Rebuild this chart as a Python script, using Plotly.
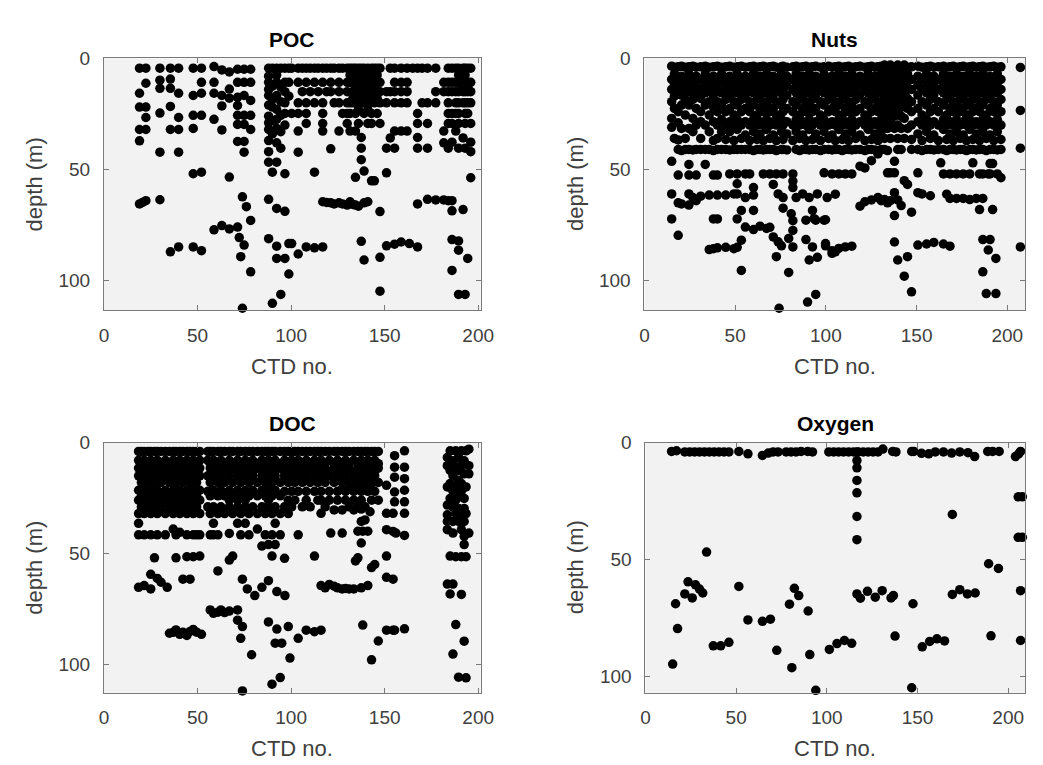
import plotly.graph_objects as go

# ---------------- data: (CTD no., [depths]) ----------------
poc_casts = [
    (19.0, [4.4, 15.7, 21.9, 32, 37.1, 65.5]),
    (20.6, [64.8]),
    (22.4, [4.4, 11.2, 21.9, 26.6, 32, 64]),
    (29.9, [4.4, 9.8, 13.5, 24.6, 42.2, 63.6]),
    (35.5, [4.4, 9.3, 13.5, 21.6, 32, 87]),
    (39.9, [4.4, 15.7, 26.6, 32, 42.2, 84.8]),
    (47.7, [4.4, 16.7, 25.6, 31.5, 51.9, 84.8]),
    (52.1, [4.4, 10.8, 15.7, 25.6, 51.2, 86.5]),
    (58.8, [3.7, 10.8, 15.7, 27.4, 77.1]),
    (63.0, [5.2, 16.7, 21.4, 32.2, 75.2]),
    (67.0, [6.1, 13.8, 17.9, 53.4, 76.7]),
    (71.4, [4.9, 10.8, 17.5, 21.2, 25.6, 29.7, 37.4, 75.9]),
    (72.3, [80.6]),
    (73.1, [89.2]),
    (74.0, [62.3, 112.4]),
    (74.9, [4.9, 10.8, 16.7, 25.6, 29.7, 37.4, 42.2, 84.0]),
    (76.1, [66.7]),
    (78.4, [4.9, 10.8, 18.9, 25.6, 32, 72.9, 96.0]),
    (88.0, [4.4, 8, 10.8, 14, 16.7, 21, 26, 29, 32, 37, 42, 46.7, 63.4, 81.1]),
    (90.0, [4.4, 12.5, 18.5, 21.9, 28, 34, 51.2, 110.2]),
    (92.3, [4.4, 7.5, 10.8, 16.7, 23, 27.4, 31.5, 38, 46.7, 67.5, 84.5, 90.0]),
    (94.5, [4.4, 13, 19.5, 25.6, 33, 40.4, 106.2]),
    (96.7, [4.4, 10.8, 15, 20, 24.8, 30, 51.9, 68.8, 90.0]),
    (98.8, [4.4, 10.8, 17, 83.3, 97.0]),
    (100.3, [4.4, 24.8, 83.3]),
    (103.8, [4.4, 10.8, 20, 24.8, 32.7, 42.2, 88.0]),
    (106.0, [4.4, 15]),
    (108.1, [4.4, 10.8, 20, 24.8, 29.3, 84.8]),
    (110.2, [4.4, 15]),
    (112.5, [4.4, 10.8, 20, 51.2, 85.2]),
    (114.5, [4.4, 15]),
    (116.9, [4.4, 10.8, 20, 24.8, 29.3, 32.7, 64.5, 84.8]),
    (119.0, [4.4, 15, 64.8]),
    (121.2, [4.4, 10.8, 15, 40.7, 65]),
    (123.0, [4.4, 20, 65.5]),
    (125.6, [4.4, 10.8, 15, 20, 32.7, 65]),
    (127.5, [4.4, 24.8, 65.5]),
    (130.0, [4.4, 10.8, 15, 20, 24.8, 29.3, 66]),
    (131.5, [4.4, 7.5, 10.8, 20, 24.8, 32.7, 64.5]),
    (133.0, [4.4, 7.5, 10.8, 15, 18, 20, 65.7]),
    (134.4, [4.4, 7, 10.8, 13, 15, 20, 24.8, 32.7, 53.5, 66]),
    (136.0, [4.4, 7, 10.8, 13, 15, 17.5, 20, 23, 29.3, 66.5]),
    (137.5, [4.4, 7, 10.8, 13, 15, 20, 35.6, 40.4, 45.6, 82.3]),
    (139.0, [4.4, 7, 10.8, 13, 15, 17.5, 20, 24.8, 50.7, 65, 90.7]),
    (141.0, [4.4, 7, 10.8, 13, 15, 20, 23, 29.3, 64.5]),
    (143.0, [4.4, 7, 10.8, 13, 15, 17.5, 24.8, 29.3, 55.1]),
    (144.5, [4.4, 7, 10.8, 15, 20, 55.1]),
    (146.0, [4.4, 7.5, 10.8, 15, 18, 24.8]),
    (147.5, [4.4, 10.8, 15, 20, 29.3, 68.9, 89.5, 104.7]),
    (151.0, [15, 20, 40.4, 51.5, 84.3]),
    (153.0, [4.4, 15, 35.8]),
    (155.3, [4.4, 10.8, 15, 20, 32.7, 40.4, 83.6]),
    (158.8, [4.4, 10.8, 15, 20, 32.7, 82.6]),
    (162.0, [4.4, 10.8, 15, 20, 32.7]),
    (163.2, [83.3]),
    (165.0, [4.4]),
    (167.6, [4.4, 24.8, 29.3, 35.6, 40.4, 65.5, 84.8]),
    (170.0, [4.4, 20]),
    (172.9, [4.4, 20, 29.3, 40.4, 63.4]),
    (177.3, [4.4, 15, 20, 63.7]),
    (181.6, [10.8, 15, 32.7, 38, 63.7]),
    (184.0, [4.4, 10.8, 15, 20, 24.8, 29.3, 40.4, 64]),
    (186.0, [4.4, 10.8, 15, 24.8, 29.3, 37.7, 64, 68.6, 81.5, 95.4]),
    (188.0, [4.4, 10.8, 15, 20, 24.8, 32.7]),
    (189.5, [4.4, 7.5, 10.8, 15, 20, 24.8, 29.3, 40.4, 82.1, 86.3, 106.2]),
    (191.9, [4.4, 10.8, 13, 15, 20, 35.8, 68]),
    (193.0, [4.4, 7.5, 10.8, 15, 20, 24.8, 29.3, 40.4, 106.2]),
    (194.4, [4.4, 10.8, 13, 15, 20, 24.8, 90]),
    (196.0, [4.4, 10.8, 15, 20, 29.3, 37.7, 42, 53.7]),
]

nuts_casts = [
    (15.0, [3.5, 9.5, 14, 19.5, 27, 31, 46.3, 61, 72.2]),
    (16.5, [4, 7, 11.5, 17, 22.5, 36]),
    (18.6, [3.8, 9.5, 14.5, 24, 29, 36.7, 41, 52.5, 65, 79.6]),
    (20.4, [3.5, 8, 12, 16.5, 21, 31.5, 41.5, 65.5]),
    (22.5, [4, 9.5, 14, 18.5, 25.5, 36, 41]),
    (24.5, [3.8, 7, 11, 15, 21, 31.5, 41, 47.7, 52.5, 61, 66]),
    (26.7, [3.5, 9.5, 14, 18.5, 27, 33, 41.2, 62.6]),
    (28.5, [4, 8, 12, 16.5, 22.5, 30, 41, 52.5, 64]),
    (31.0, [3.8, 9.5, 14, 18, 24, 28.5, 36, 41, 62]),
    (33.5, [3.5, 7, 11, 15.5, 21, 30, 41, 47.7]),
    (35.7, [4, 9.5, 14, 19.5, 25.5, 33, 41, 61.5, 86]),
    (38.0, [3.8, 8, 12, 16.5, 22, 28.5, 37, 41.5, 52.5, 72.2, 85.6]),
    (40.2, [3.5, 9.5, 14, 19.5, 24, 30, 36, 41, 52.5, 61.5, 72.2, 85.2]),
    (42.5, [4, 7, 11, 15.5, 21, 27.5, 33, 41]),
    (44.8, [3.8, 9.5, 14, 18.5, 24, 30, 36.5, 41, 61.5, 85]),
    (47.0, [3.5, 8, 12, 16.5, 22.5, 28.5, 33, 41.2, 52]),
    (49.3, [4, 9.5, 14, 19.5, 25.5, 30, 37, 41, 61, 85.6]),
    (51.1, [3.8, 7, 11, 15.5, 21, 27.5, 32, 41, 52, 56.4, 61, 72.2, 85]),
    (53.4, [3.5, 9.5, 14, 18.5, 24, 30, 36, 41, 68.4, 81.8, 95.4]),
    (55.6, [4, 8, 12, 16.5, 22.5, 28.5, 34.5, 41, 52, 62.6, 75.9]),
    (58.0, [3.8, 9.5, 14, 19.5, 24, 30, 37, 41, 52]),
    (60.1, [3.5, 7, 11, 15.5, 21, 27.5, 33, 41.5, 58.1, 61.5, 68.4, 77]),
    (62.0, [4, 9.5, 14, 18.5, 25.5, 30, 36.5, 41]),
    (63.7, [3.8, 8, 12, 16.5, 22.5, 28.5, 34, 41, 75.5]),
    (65.5, [3.5, 9.5, 14, 19.5, 24, 30, 37, 41.2, 52]),
    (67.3, [4, 7, 11, 15.5, 21, 27.5, 32, 41, 76.5]),
    (69.1, [3.8, 9.5, 14, 18.5, 24, 30, 36, 41, 52, 76]),
    (71.0, [3.5, 8, 12, 16.5, 22.5, 28.5, 34.5, 41, 56.7, 80.3]),
    (72.7, [4, 9.5, 14, 19.5, 25.5, 30, 37, 41.5, 52, 89.2]),
    (73.7, [61, 82.5]),
    (74.2, [112.4]),
    (75.5, [3.8, 7, 11, 15.5, 21, 27.5, 33, 41, 84.3]),
    (76.4, [3.5, 9.5, 14, 18.5, 24, 30, 36.5, 41, 52, 62.6, 67.4]),
    (78.5, [4, 8, 12, 16.5, 22.5, 28.5, 34, 41.2]),
    (79.5, [81, 96.3]),
    (80.9, [69.9]),
    (81.8, [3.8, 9.5, 14, 19.5, 24, 30, 37, 52, 55.2, 58.1, 73, 77.4, 84.8]),
    (83.6, [3.5, 7, 11, 15.5, 21, 27.5, 33, 41, 62.6]),
    (85.5, [4, 9.5, 14, 18.5, 25.5, 30, 36, 41.5]),
    (87.2, [3.8, 8, 12, 16.5, 22.5, 28.5, 34.5, 41, 61]),
    (89.0, [3.5, 9.5, 14, 19.5, 24, 30, 37, 41, 72.8, 81.5]),
    (89.9, [109.6]),
    (90.8, [4, 7, 11, 15.5, 21, 27.5, 32, 41.2, 62.6, 90.7]),
    (92.6, [3.8, 9.5, 14, 18.5, 24, 30, 36.5, 41, 68.4, 84.8]),
    (93.5, [72.1]),
    (94.4, [3.5, 8, 12, 16.5, 22.5, 28.5, 34, 41, 72.8, 106.2]),
    (95.3, [61, 89.5]),
    (97.0, [4, 9.5, 14, 19.5, 25.5, 30, 37, 41.5]),
    (99.0, [3.8, 7, 11, 15.5, 21, 27.5, 33, 41, 51.5, 72.8]),
    (99.8, [72.6, 83.3, 84.3]),
    (100.7, [62.6]),
    (101.5, [3.5, 9.5, 14, 18.5, 24, 30, 36, 41]),
    (103.4, [4, 8, 12, 16.5, 22.5, 28.5, 34.5, 41.2, 52, 86.5, 87.7]),
    (105.2, [3.8, 9.5, 14, 19.5, 24, 30, 37, 41, 61.1, 87]),
    (107.1, [3.5, 7, 11, 15.5, 21, 27.5, 32, 41, 52, 85.5]),
    (109.0, [4, 9.5, 14, 18.5, 25.5, 30, 36.5, 41.5]),
    (110.7, [3.8, 8, 12, 16.5, 22.5, 28.5, 34, 41, 52, 84.8]),
    (112.5, [3.5, 9.5, 14, 19.5, 24, 30, 37, 41]),
    (114.3, [4, 7, 11, 15.5, 21, 27.5, 33, 41.2, 52, 84.5]),
    (116.5, [3.8, 9.5, 14, 18.5, 24, 30, 36, 41]),
    (118.8, [3.5, 8, 12, 16.5, 22.5, 28.5, 34.5, 41, 48.5, 66.5]),
    (121.5, [4, 9.5, 14, 19.5, 25.5, 30, 37, 41.5, 49.3, 64.5]),
    (123.3, [3.8, 7, 11, 15.5, 21, 27.5, 32, 41]),
    (125.1, [3.5, 9.5, 14, 18.5, 24, 30, 36.5, 41, 46, 63.7]),
    (127.0, [4, 8, 12, 16.5, 22.5, 28.5, 34, 41.2]),
    (128.7, [3.8, 9.5, 14, 19.5, 24, 30, 37, 43, 62.6]),
    (130.5, [3.5, 7, 11, 15.5, 21, 27.5, 33, 41, 64]),
    (132.3, [3, 6, 9.5, 13, 17, 20.5, 24, 30, 36, 41, 63.5]),
    (134.0, [4, 7, 10.5, 14, 18, 22, 26, 31.5, 41.5, 51.5, 65]),
    (135.5, [3, 6, 9.5, 13, 17, 20.5, 24, 28, 36, 51.5, 64]),
    (137.8, [4, 7, 10.5, 14, 18, 22, 26, 31.5, 46.3, 51.5, 60.4, 70.7, 82.6]),
    (139.6, [3, 6, 9.5, 13, 17, 20.5, 24, 30, 36, 41, 63.7, 90.7]),
    (141.5, [4, 7, 10.5, 14, 18, 22, 26, 31.5, 41, 66.2]),
    (143.2, [3, 6, 9.5, 13, 17, 20.5, 27, 36, 55, 98]),
    (145.0, [4, 7, 10.5, 14, 18, 22.5, 31.5, 56.7, 89.2]),
    (147.2, [3.8, 9.5, 14, 19.5, 24, 30, 36.5, 41, 69.2, 105]),
    (150.7, [3.5, 8, 12, 16.5, 22.5, 28.5, 34, 41, 51.5, 60.4, 84]),
    (153.0, [4, 9.5, 14, 19.5, 25.5, 30, 37, 41.5, 61]),
    (155.5, [3.8, 7, 11, 15.5, 21, 27.5, 33, 41, 83.5]),
    (157.6, [3.5, 9.5, 14, 18.5, 24, 30, 36, 41, 61.8]),
    (159.5, [4, 8, 12, 16.5, 22.5, 28.5, 34.5, 41.2, 82.8]),
    (162.0, [3.8, 9.5, 14, 19.5, 24, 30, 37, 41]),
    (163.3, [47]),
    (164.8, [3.5, 7, 11, 15.5, 21, 27.5, 32, 41, 52, 83.5]),
    (166.6, [4, 9.5, 14, 18.5, 25.5, 30, 36.5, 41.5, 61.1]),
    (168.4, [3.8, 8, 12, 16.5, 22.5, 28.5, 34, 41, 52, 63, 84.5]),
    (170.2, [3.5, 9.5, 14, 19.5, 24, 30, 37, 41]),
    (172.0, [4, 7, 11, 15.5, 21, 27.5, 33, 41.2, 52, 63]),
    (174.0, [3.8, 9.5, 14, 18.5, 24, 30, 36, 41]),
    (175.7, [3.5, 8, 12, 16.5, 22.5, 28.5, 34.5, 41, 52, 63]),
    (177.5, [4, 9.5, 14, 19.5, 25.5, 30, 37, 41.5]),
    (179.3, [3.8, 7, 11, 15.5, 21, 27.5, 32, 41, 52, 63.5]),
    (181.0, [3.5, 9.5, 14, 18.5, 24, 30, 36.5, 41, 47]),
    (182.9, [4, 8, 12, 16.5, 22.5, 28.5, 34, 41.2, 63]),
    (184.7, [3.8, 9.5, 14, 19.5, 24, 30, 37, 41, 52, 68]),
    (186.5, [3.5, 7, 11, 15.5, 21, 27.5, 33, 41, 52, 63, 81.5, 96]),
    (188.4, [4, 9.5, 14, 18.5, 25.5, 30, 36, 41.5, 105.8]),
    (189.5, [52, 86.2]),
    (190.5, [3.8, 8, 12, 16.5, 22.5, 28.5, 34.5, 41, 47.3, 52, 81.5]),
    (191.9, [47.3, 68]),
    (192.5, [3.5, 9.5, 14, 19.5, 24, 30, 37, 41]),
    (193.7, [90, 105.8]),
    (194.5, [4, 7, 11, 15.5, 21, 27.5, 33, 41.2, 52]),
    (196.5, [3.8, 9.5, 14, 18.5, 24, 30, 36.5, 41, 53.7]),
    (207.2, [4.1, 23.4, 40.4, 84.8]),
]

doc_casts = [
    (18.5, [4, 8, 11.5, 15, 21.5, 26, 32, 36.4, 41.6, 65.3]),
    (20.0, [4, 9.5, 13, 18, 24, 29]),
    (21.5, [4, 8, 11.5, 15, 21.5, 26, 32, 41.6, 64.5]),
    (23.5, [4, 9.5, 13, 18, 24, 29]),
    (25.0, [4, 8, 11.5, 15, 21.5, 26, 32, 41.6, 59.4, 66]),
    (27.0, [4, 9.5, 13, 18, 24, 29, 52]),
    (28.5, [4, 8, 11.5, 15, 21.5, 26, 32, 41.6, 61.3]),
    (30.5, [4, 9.5, 13, 18, 24, 29, 63]),
    (32.8, [4, 8, 11.5, 15, 21.5, 26, 32, 41.6]),
    (33.8, [65.3]),
    (35.0, [4, 9.5, 13, 18, 24, 29, 86]),
    (37.0, [4, 8, 11.5, 15, 21.5, 26, 32, 39, 85.6]),
    (38.5, [4, 9.5, 13, 18, 24, 29, 41.6, 52, 84.5]),
    (40.5, [4, 8, 11.5, 15, 21.5, 26, 32, 40.5, 86.5]),
    (42.2, [4, 9.5, 13, 18, 24, 29, 61.6, 85.5]),
    (44.3, [4, 8, 11.5, 15, 21.5, 26, 32, 41.6, 51.5, 87]),
    (46.0, [4, 9.5, 13, 18, 24, 29, 61.6, 85.2]),
    (47.7, [4, 8, 11.5, 15, 21.5, 26, 32, 41.6, 51.5, 84.3]),
    (49.5, [4, 9.5, 13, 18, 24, 29, 41.6, 85.5]),
    (51.2, [4, 8, 11.5, 15, 21.5, 26, 32, 41.6, 51.2]),
    (52.1, [86.5]),
    (55.5, [4, 8, 15, 22, 29]),
    (56.8, [4, 9.5, 11.5, 18, 24, 32, 41.6, 75.5]),
    (58.5, [4, 8, 13, 15, 21.5, 29, 36.4, 41.6, 77]),
    (60.9, [4, 9.5, 11.5, 18, 24, 32, 41.6, 57.9, 76.5]),
    (62.5, [4, 8, 13, 15, 21.5, 29, 75.5]),
    (64.5, [4, 9.5, 11.5, 18, 24, 32, 76.7]),
    (67.0, [4, 8, 13, 15, 21.5, 26, 29, 41, 53, 76]),
    (68.8, [4, 9.5, 11.5, 18, 24, 32, 51.2]),
    (71.4, [4, 8, 13, 15, 21.5, 26, 29, 36.4, 75.5, 80.1]),
    (73.1, [4, 9.5, 11.5, 18, 24, 32, 41.6, 88.3]),
    (74.0, [61.6, 83, 112]),
    (75.5, [4, 8, 13, 15, 21.5, 26, 29, 36.4]),
    (76.6, [66]),
    (77.5, [4, 9.5, 11.5, 18, 24, 32, 41.6]),
    (78.9, [95.7]),
    (79.5, [4, 8, 13, 15, 21.5, 29]),
    (80.6, [69]),
    (82.0, [4, 9.5, 11.5, 18, 24, 32, 39]),
    (84.4, [4, 8, 13, 15, 21.5, 29, 46.7, 65.3]),
    (86.2, [4, 9.5, 11.5, 18, 24, 32, 41.6]),
    (87.9, [4, 8, 13, 15, 21.5, 26, 29, 46, 62.3, 80.9]),
    (89.8, [4, 9.5, 11.5, 18, 24, 32, 41.6, 51.2, 109]),
    (91.5, [4, 8, 13, 15, 21.5, 29, 36.4, 46, 90.5]),
    (92.4, [67.2, 84.1]),
    (94.2, [4, 9.5, 11.5, 18, 24, 32, 41.6, 106]),
    (95.0, [90.5]),
    (96.5, [4, 8, 13, 15, 22, 29, 52.2]),
    (96.7, [69]),
    (98.5, [4, 9.5, 11.5, 18, 26, 32, 83]),
    (99.4, [97.2]),
    (100.3, [4, 8, 13, 15, 22, 29]),
    (102.0, [4, 9.5, 11.5, 18, 26]),
    (103.8, [4, 8, 13, 15, 22, 41.6, 88.3]),
    (106.0, [4, 9.5, 11.5, 18, 29]),
    (108.1, [4, 8, 13, 15, 22, 26, 84.6]),
    (110.2, [4, 9.5, 11.5, 18, 29]),
    (112.5, [4, 8, 13, 15, 22, 51.2, 85.3]),
    (114.3, [4, 9.5, 11.5, 18, 26]),
    (116.0, [4, 8, 13, 15, 22, 26, 31.9, 64.5, 84.6]),
    (118.2, [4, 9.5, 11.5, 18, 29, 65.5]),
    (120.4, [4, 8, 13, 15, 22, 26, 64]),
    (121.2, [40.8]),
    (123.0, [4, 9.5, 11.5, 18, 30.4, 64.8]),
    (124.8, [4, 8, 13, 15, 22, 26, 65.5]),
    (127.3, [4, 9.5, 11.5, 18, 21, 30.4, 40.8, 66]),
    (129.1, [4, 8, 13, 15, 22, 26, 65.8]),
    (131.0, [4, 9.5, 11.5, 18, 21, 29, 66]),
    (133.5, [4, 8, 13, 15, 18.5, 22, 26, 30.4, 66]),
    (134.4, [53.4]),
    (135.7, [4, 9.5, 11.5, 18, 21, 29, 40, 52]),
    (137.5, [4, 8, 13, 15, 18.5, 22, 26, 30, 35.6, 45.3, 65.5]),
    (138.3, [40, 82.3]),
    (139.5, [4, 9.5, 11.5, 18, 21, 29, 34.9]),
    (141.0, [4, 8, 13, 15, 18.5, 22, 40, 64.5]),
    (142.2, [31.2]),
    (143.0, [4, 9.5, 11.5, 18, 21, 26, 56.4, 98]),
    (144.7, [4, 8, 13, 15, 22, 55]),
    (146.6, [4, 9.5, 11.5, 18, 26, 89.5]),
    (151.0, [19.3, 31.9, 39.3, 51.2, 60.8, 84.6]),
    (154.5, [31.9, 40.1, 61.6, 84.6]),
    (155.3, [5.9, 11.1, 15.6, 22.3, 26.7, 84.6]),
    (156.0, [40.8]),
    (160.6, [3.7, 11.1, 16.3, 21.5, 26.7, 31.9, 41.9, 84]),
    (183.5, [6.7, 10.4, 20, 28.2, 32.6, 35.6, 39.3, 63.8]),
    (185.0, [3.7, 12.6, 18.5, 25.2, 51.2, 68.3]),
    (186.5, [8.2, 15, 22, 29, 35.6, 40.8, 63.8, 95.4]),
    (188.0, [3.7, 11, 20, 26, 31.9, 51.5, 82.1]),
    (189.5, [6.7, 12.6, 17, 24.5, 29.7, 35.6, 105.8]),
    (191.0, [3.7, 10.4, 18.5, 22, 32, 39.3, 51.5, 68.5]),
    (192.5, [8.2, 14.1, 25.2, 29.7, 35.6, 42.3, 46, 89.6]),
    (193.5, [3.7, 20, 32, 51.5, 106.1]),
    (195.0, [3, 10.4, 14.1, 40.8]),
]

oxy_casts = [
    (14.4, [3.8]), (15.0, [94.7]), (16.6, [68.9]), (17.1, [3.5]), (17.7, [79.5]),
    (21.7, [4, 64.7]), (23.5, [59.5]), (24.4, [4]), (25.8, [66.4]), (27.1, [4]),
    (27.6, [60.8]), (29.8, [4, 62.6]), (31.6, [64.3]), (32.5, [4]), (33.7, [46.8]),
    (35.2, [4]), (37.4, [86.9]), (37.9, [4]), (40.6, [4]), (41.5, [86.9]),
    (43.3, [4]), (46.0, [4, 85.4]), (51.5, [3.8, 61.5]), (56.5, [4.8, 75.8]),
    (64.5, [5.5, 76.4]), (67.7, [4.5]), (68.9, [75.5]), (70.4, [4]), (72.4, [88.8]),
    (73.1, [4]), (77.6, [4]), (79.4, [69.1]), (80.3, [4]), (80.7, [96.2]),
    (82.1, [62.3]), (83.0, [4]), (84.5, [65.4]), (85.8, [3.8]), (89.4, [3.8]),
    (89.7, [72]), (90.6, [90.6]), (92.1, [4]), (93.9, [105.9]), (101.1, [4]),
    (101.4, [88.4]), (103.8, [4]), (105.6, [85.9]), (106.5, [4]), (109.2, [4]),
    (109.7, [84.6]), (112.0, [4]), (113.7, [85.8]), (114.7, [4]),
    (116.6, [4, 7.7, 10.8, 16.2, 21.5, 31.6, 41.5, 64.7]), (117.4, [4]),
    (118.5, [66.5]), (120.1, [4]), (122.4, [63.6]), (122.8, [4]), (125.5, [4]),
    (126.7, [66.1]), (128.2, [4]), (130.5, [63.3]), (130.9, [2.8]), (135.4, [66.4]),
    (136.3, [3.8]), (136.7, [65.4]), (137.6, [82.7]), (138.1, [4]), (146.8, [3.8, 104.8]),
    (147.5, [68.9]), (148.0, [3.8]), (152.2, [4.6]), (152.6, [87.3]), (156.2, [4.8]),
    (156.7, [85]), (159.8, [4]), (160.7, [83.9]), (164.3, [4]), (164.9, [84.8]),
    (168.8, [4.5]), (169.2, [30.7, 64.9]), (173.3, [4, 62.9]), (177.5, [64.7]),
    (177.8, [4.3]), (181.5, [6]), (181.8, [64.3]), (188.7, [3.8]), (189.2, [51.8]),
    (190.5, [82.6]), (191.4, [3.8]), (194.6, [53.8]), (195.0, [3.8]),
    (204.0, [6]), (205.5, [23.2, 40.5]), (205.8, [4.8]), (206.8, [3.8, 63.3, 84.6]),
    (207.8, [23.2, 40.5]),
]

titles = ["POC", "Nuts", "DOC", "Oxygen"]
x_ticks = [0, 50, 100, 150, 200]
y_ticks = [0, 50, 100]


def flatten(casts):
    xs, ys = [], []
    for ctd, depths in casts:
        for d in depths:
            xs.append(ctd)
            ys.append(d)
    return xs, ys


W, H = 1043, 765
# panel boxes in pixels: left, right, top, bottom
boxes = [
    (100.7, 484.0, 49.0, 304.0),
    (650.7, 1038.0, 49.0, 304.0),
    (100.7, 484.0, 438.3, 691.7),
    (651.7, 1038.0, 438.3, 691.7),
]
xranges = [[0, 201.3], [0, 209.8], [0, 201.3], [0, 209.3]]
yranges = [[113.2, 0], [113.2, 0], [112.8, 0], [106.9, 0]]

fig = go.Figure()
all_casts = [poc_casts, nuts_casts, doc_casts, oxy_casts]
font_family = "Liberation Sans, Arial, Helvetica, sans-serif"
axis_col = "#7a7a7a"
text_col = "#404040"
tick_font = dict(family=font_family, size=19, color=text_col)

annotations = []
for i, casts in enumerate(all_casts):
    xs, ys = flatten(casts)
    n = "" if i == 0 else str(i + 1)
    fig.add_trace(go.Scatter(
        x=xs, y=ys, mode="markers", xaxis="x" + n, yaxis="y" + n,
        marker=dict(color="black", size=9.5, line=dict(width=0)),
        cliponaxis=False, showlegend=False, hoverinfo="x+y",
    ))
    l, r, t, b = boxes[i]
    xd = [l / W, r / W]
    yd = [1 - b / H, 1 - t / H]
    common = dict(showline=True, linecolor=axis_col, linewidth=1, mirror="ticks",
                  ticks="inside", ticklen=5, tickcolor=axis_col, tickwidth=1,
                  showgrid=False, zeroline=False, tickfont=tick_font)
    fig.layout["xaxis" + n] = dict(domain=xd, range=xranges[i], tickvals=x_ticks,
                                   anchor="y" + n, ticklabelstandoff=8, **common)
    fig.layout["yaxis" + n] = dict(domain=yd, range=yranges[i], tickvals=y_ticks,
                                   anchor="x" + n, ticklabelstandoff=9, **common)
    cx = (l + r) / 2 / W
    annotations.append(dict(text="<b>%s</b>" % titles[i], x=cx, y=1 - (t - 19) / H,
                            xref="paper", yref="paper", showarrow=False,
                            xanchor="center", yanchor="middle",
                            font=dict(family=font_family, size=21, color="black")))
    annotations.append(dict(text="CTD no.", x=cx, y=1 - (b + 57) / H,
                            xref="paper", yref="paper", showarrow=False,
                            xanchor="center", yanchor="middle",
                            font=dict(family=font_family, size=22, color=text_col)))
    annotations.append(dict(text="depth (m)", x=(l - 71) / W, y=1 - (t + b) / 2 / H,
                            xref="paper", yref="paper", showarrow=False, textangle=-90,
                            xanchor="center", yanchor="middle",
                            font=dict(family=font_family, size=22, color=text_col)))

fig.update_layout(
    width=W, height=H, margin=dict(l=0, r=0, t=0, b=0),
    paper_bgcolor="white", plot_bgcolor="#f2f2f2",
    annotations=annotations, showlegend=False,
)
fig.write_html(
    "out.html",
    post_script="document.body.style.margin='0';document.body.style.overflow='hidden';",
)
